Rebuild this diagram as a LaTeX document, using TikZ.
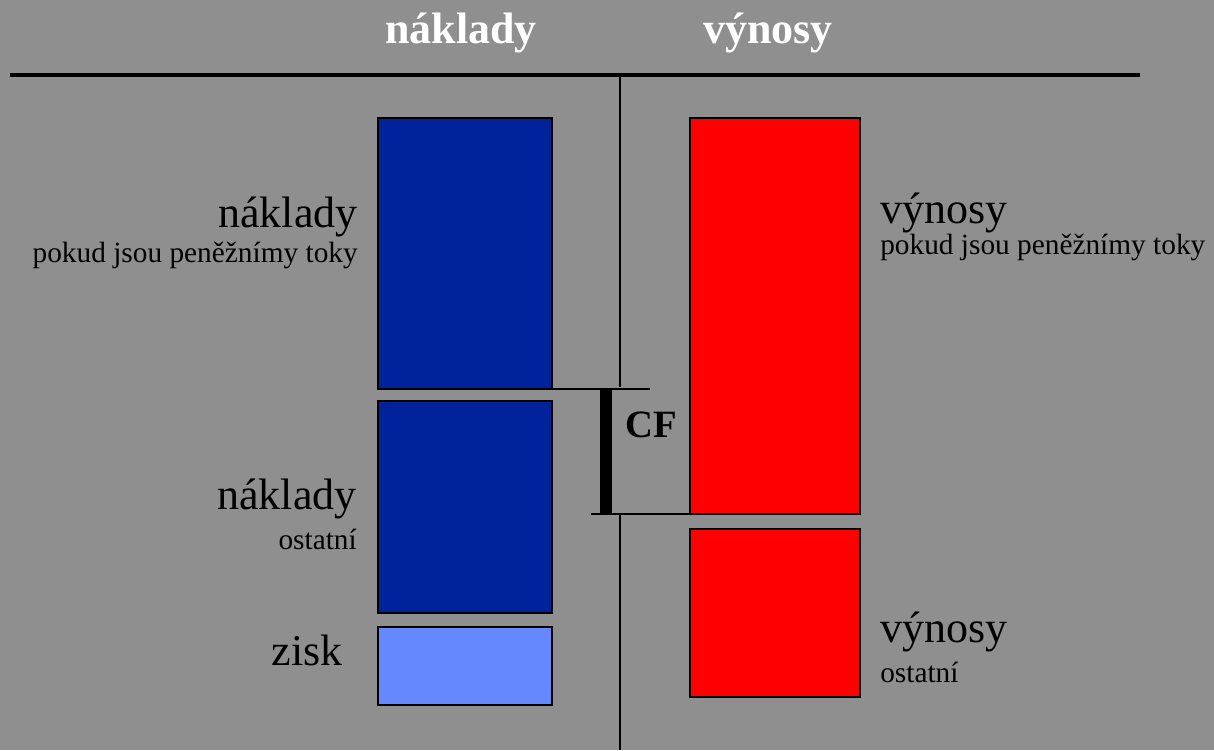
\documentclass[tikz,border=0pt]{standalone}
\usepackage{fontspec}
\setmainfont{Liberation Serif}
\usetikzlibrary{fit}

\definecolor{pozadi}{RGB}{143,143,143}
\definecolor{tmavemodra}{RGB}{0,35,155}
\definecolor{svetlemodra}{RGB}{102,136,255}
\definecolor{cervena}{RGB}{255,0,0}

\tikzset{
    box/.style={draw=black, line width=1.6pt, inner sep=0pt, outer sep=0pt},
    hlavicka/.style={text=white, font=\fontsize{33}{38}\selectfont\bfseries, inner sep=0pt},
    velky/.style={font=\fontsize{33}{38}\selectfont, inner sep=0pt},
    maly/.style={font=\fontsize{22}{26}\selectfont, inner sep=0pt}
}

\begin{document}
\begin{tikzpicture}[x=0.75pt, y=-0.75pt]

    % Pozadí
    \fill[pozadi] (0,0) rectangle (1214,750);
    \useasboundingbox (0,0) rectangle (1214,750);

    % Hlavičky sloupců
    \node[hlavicka, anchor=base] (hnaklady) at (461,43) {náklady};
    \node[hlavicka, anchor=base] (hvynosy) at (768,43) {výnosy};

    % Osa
    \coordinate (osaL) at (10,75);
    \coordinate (osaR) at (1140,75);
    \coordinate (osaT) at (620,75);
    \coordinate (osaB) at (620,750);
    \draw[line width=2.3pt] (osaL) -- (osaR);

    % Sloupec nákladů
    \node[box, fill=tmavemodra, fit={(378,118) (552,389)}] (naklady1) {};
    \node[box, fill=tmavemodra, fit={(378,401) (552,613)}] (naklady2) {};
    \node[box, fill=svetlemodra, fit={(378,627) (552,705)}] (zisk) {};

    % Sloupec výnosů
    \node[box, fill=cervena, fit={(690,118) (860,514)}] (vynosy1) {};
    \node[box, fill=cervena, fit={(690,529) (860,697)}] (vynosy2) {};

    % Svislá čára (přerušená u CF)
    \coordinate (cfT) at (650,389);
    \coordinate (cfB) at (591,514);
    \draw[line width=1.5pt] (osaT) -- (620,387);
    \draw[line width=1.5pt] (620,515) -- (osaB);

    % CF
    \draw[line width=1.6pt] (naklady1.south east) -- (cfT);
    \draw[line width=1.6pt] (cfB) -- (vynosy1.south west);
    \coordinate (barT) at (606,389);
    \coordinate (barB) at (606,514);
    \draw[line width=8.5pt] (barT) -- (barB);
    \node[font=\fontsize{29}{34}\selectfont\bfseries, inner sep=0pt] (cf) at (651,425) {CF};

    % Popisky vlevo
    \node[velky, anchor=base east] (lnaklady1) at (358,227) {náklady};
    \node[maly, anchor=base east] (ltoky1) at (358,262) {pokud jsou peněžnímy toky};
    \node[velky, anchor=base east] (lnaklady2) at (357,509) {náklady};
    \node[maly, anchor=base east] (lostatni1) at (357,549) {ostatní};
    \node[velky, anchor=base east] (lzisk) at (343,665) {zisk};

    % Popisky vpravo
    \node[velky, anchor=base west] (lvynosy1) at (880,223) {výnosy};
    \node[maly, anchor=base west] (ltoky2) at (880,254) {pokud jsou peněžnímy toky};
    \node[velky, anchor=base west] (lvynosy2) at (880,642) {výnosy};
    \node[maly, anchor=base west] (lostatni2) at (880,682) {ostatní};

\end{tikzpicture}
\end{document}
